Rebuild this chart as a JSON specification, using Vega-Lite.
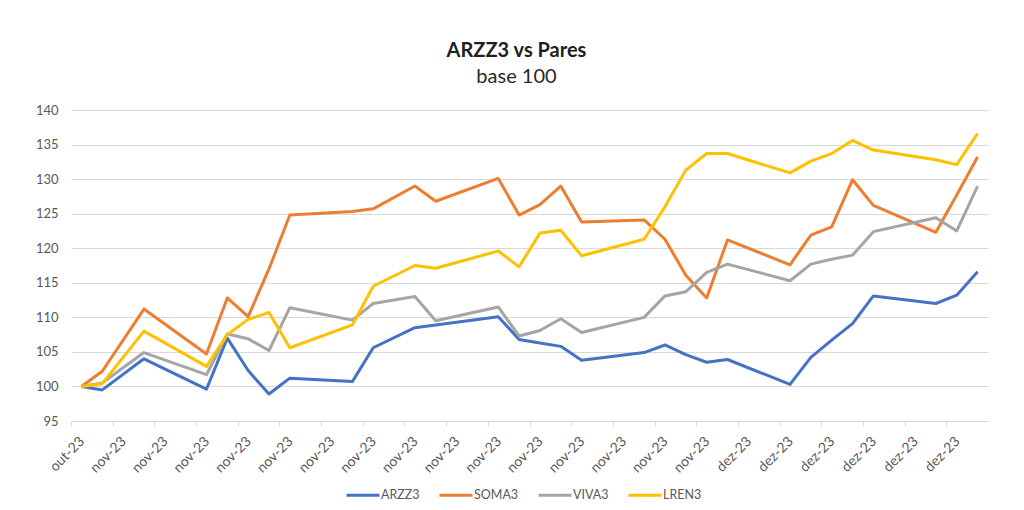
{
  "$schema": "https://vega.github.io/schema/vega-lite/v6.json",
  "autosize": "none",
  "width": 917,
  "height": 311,
  "padding": {"left": 71, "top": 110, "right": 36, "bottom": 89},
  "background": "white",
  "config": {
    "view": {"stroke": null},
    "font": "Lato"
  },
  "title": {
    "text": "ARZZ3 vs Pares",
    "subtitle": "base 100",
    "anchor": "middle",
    "frame": "group",
    "dx": -13,
    "offset": 17,
    "font": "Lato",
    "fontSize": 20,
    "fontWeight": "bold",
    "color": "#1f1f1f",
    "subtitleFont": "Lato",
    "subtitleFontSize": 20,
    "subtitleFontWeight": "normal",
    "subtitleColor": "#2a2a2a",
    "subtitlePadding": 6
  },
  "data": {
    "values": [
      {"d": "2023-10-31", "ARZZ3": 100, "SOMA3": 100, "VIVA3": 100, "LREN3": 100},
      {"d": "2023-11-01", "ARZZ3": 99.5, "SOMA3": 102.2, "VIVA3": 100.5, "LREN3": 100.4},
      {"d": "2023-11-03", "ARZZ3": 104.0, "SOMA3": 111.2, "VIVA3": 104.9, "LREN3": 108.0},
      {"d": "2023-11-06", "ARZZ3": 99.6, "SOMA3": 104.7, "VIVA3": 101.7, "LREN3": 102.9},
      {"d": "2023-11-07", "ARZZ3": 107.0, "SOMA3": 112.8, "VIVA3": 107.6, "LREN3": 107.5},
      {"d": "2023-11-08", "ARZZ3": 102.3, "SOMA3": 110.1, "VIVA3": 106.9, "LREN3": 109.7},
      {"d": "2023-11-09", "ARZZ3": 98.9, "SOMA3": 117.0, "VIVA3": 105.2, "LREN3": 110.7},
      {"d": "2023-11-10", "ARZZ3": 101.2, "SOMA3": 124.8, "VIVA3": 111.4, "LREN3": 105.6},
      {"d": "2023-11-13", "ARZZ3": 100.7, "SOMA3": 125.3, "VIVA3": 109.6, "LREN3": 108.9},
      {"d": "2023-11-14", "ARZZ3": 105.6, "SOMA3": 125.7, "VIVA3": 112.0, "LREN3": 114.5},
      {"d": "2023-11-16", "ARZZ3": 108.5, "SOMA3": 129.0, "VIVA3": 113.0, "LREN3": 117.5},
      {"d": "2023-11-17", "ARZZ3": 108.9, "SOMA3": 126.8, "VIVA3": 109.5, "LREN3": 117.1},
      {"d": "2023-11-20", "ARZZ3": 110.1, "SOMA3": 130.1, "VIVA3": 111.5, "LREN3": 119.6},
      {"d": "2023-11-21", "ARZZ3": 106.8, "SOMA3": 124.8, "VIVA3": 107.3, "LREN3": 117.3},
      {"d": "2023-11-22", "ARZZ3": 106.3, "SOMA3": 126.3, "VIVA3": 108.1, "LREN3": 122.2},
      {"d": "2023-11-23", "ARZZ3": 105.8, "SOMA3": 129.0, "VIVA3": 109.8, "LREN3": 122.6},
      {"d": "2023-11-24", "ARZZ3": 103.8, "SOMA3": 123.8, "VIVA3": 107.8, "LREN3": 118.9},
      {"d": "2023-11-27", "ARZZ3": 104.9, "SOMA3": 124.1, "VIVA3": 110.0, "LREN3": 121.3},
      {"d": "2023-11-28", "ARZZ3": 106.0, "SOMA3": 121.3, "VIVA3": 113.1, "LREN3": 126.0},
      {"d": "2023-11-29", "ARZZ3": 104.6, "SOMA3": 116.1, "VIVA3": 113.7, "LREN3": 131.3},
      {"d": "2023-11-30", "ARZZ3": 103.5, "SOMA3": 112.8, "VIVA3": 116.5, "LREN3": 133.7},
      {"d": "2023-12-01", "ARZZ3": 103.9, "SOMA3": 121.2, "VIVA3": 117.7, "LREN3": 133.7},
      {"d": "2023-12-04", "ARZZ3": 100.3, "SOMA3": 117.6, "VIVA3": 115.3, "LREN3": 130.9},
      {"d": "2023-12-05", "ARZZ3": 104.2, "SOMA3": 121.9, "VIVA3": 117.7, "LREN3": 132.6},
      {"d": "2023-12-06", "ARZZ3": 106.7, "SOMA3": 123.1, "VIVA3": 118.4, "LREN3": 133.7},
      {"d": "2023-12-07", "ARZZ3": 109.1, "SOMA3": 129.9, "VIVA3": 119.0, "LREN3": 135.6},
      {"d": "2023-12-08", "ARZZ3": 113.1, "SOMA3": 126.2, "VIVA3": 122.4, "LREN3": 134.2},
      {"d": "2023-12-11", "ARZZ3": 112.0, "SOMA3": 122.3, "VIVA3": 124.4, "LREN3": 132.8},
      {"d": "2023-12-12", "ARZZ3": 113.2, "SOMA3": 127.7, "VIVA3": 122.5, "LREN3": 132.1},
      {"d": "2023-12-13", "ARZZ3": 116.6, "SOMA3": 133.2, "VIVA3": 129.0, "LREN3": 136.6}
    ]
  },
  "transform": [
    {"fold": ["ARZZ3", "SOMA3", "VIVA3", "LREN3"], "as": ["serie", "valor"]}
  ],
  "mark": {"type": "line", "strokeWidth": 3, "strokeJoin": "round", "strokeCap": "butt"},
  "encoding": {
    "x": {
      "field": "d",
      "type": "temporal",
      "scale": {
        "type": "utc",
        "domain": [
          {"year": 2023, "month": 10, "date": 30, "hours": 12, "utc": true},
          {"year": 2023, "month": 12, "date": 13, "hours": 12, "utc": true}
        ]
      },
      "axis": {
        "title": null,
        "grid": false,
        "values": [
          {"year": 2023, "month": 10, "date": 30, "hours": 12, "utc": true},
          {"year": 2023, "month": 11, "date": 1, "hours": 12, "utc": true},
          {"year": 2023, "month": 11, "date": 3, "hours": 12, "utc": true},
          {"year": 2023, "month": 11, "date": 5, "hours": 12, "utc": true},
          {"year": 2023, "month": 11, "date": 7, "hours": 12, "utc": true},
          {"year": 2023, "month": 11, "date": 9, "hours": 12, "utc": true},
          {"year": 2023, "month": 11, "date": 11, "hours": 12, "utc": true},
          {"year": 2023, "month": 11, "date": 13, "hours": 12, "utc": true},
          {"year": 2023, "month": 11, "date": 15, "hours": 12, "utc": true},
          {"year": 2023, "month": 11, "date": 17, "hours": 12, "utc": true},
          {"year": 2023, "month": 11, "date": 19, "hours": 12, "utc": true},
          {"year": 2023, "month": 11, "date": 21, "hours": 12, "utc": true},
          {"year": 2023, "month": 11, "date": 23, "hours": 12, "utc": true},
          {"year": 2023, "month": 11, "date": 25, "hours": 12, "utc": true},
          {"year": 2023, "month": 11, "date": 27, "hours": 12, "utc": true},
          {"year": 2023, "month": 11, "date": 29, "hours": 12, "utc": true},
          {"year": 2023, "month": 12, "date": 1, "hours": 12, "utc": true},
          {"year": 2023, "month": 12, "date": 3, "hours": 12, "utc": true},
          {"year": 2023, "month": 12, "date": 5, "hours": 12, "utc": true},
          {"year": 2023, "month": 12, "date": 7, "hours": 12, "utc": true},
          {"year": 2023, "month": 12, "date": 9, "hours": 12, "utc": true},
          {"year": 2023, "month": 12, "date": 11, "hours": 12, "utc": true}
        ],
        "labelExpr": "['jan','fev','mar','abr','mai','jun','jul','ago','set','out','nov','dez'][utcmonth(datum.value + 43200000)] + '-' + utcFormat(datum.value + 43200000, '%y')",
        "labelAngle": -45,
        "labelAlign": "right",
        "labelBaseline": "middle",
        "labelPadding": 13,
        "labelOffset": 11,
        "labelFont": "Lato",
        "labelFontSize": 14,
        "labelColor": "#595959",
        "labelOverlap": false,
        "labelFlush": false,
        "domainColor": "#D9D9D9",
        "domainWidth": 1,
        "tickColor": "#D9D9D9",
        "tickSize": 5,
        "tickWidth": 1
      }
    },
    "y": {
      "field": "valor",
      "type": "quantitative",
      "scale": {"domain": [95, 140], "nice": false, "zero": false},
      "axis": {
        "title": null,
        "values": [95, 100, 105, 110, 115, 120, 125, 130, 135, 140],
        "domain": false,
        "ticks": false,
        "grid": true,
        "gridColor": "#D9D9D9",
        "gridWidth": 1,
        "labelPadding": 13,
        "labelFont": "Lato",
        "labelFontSize": 13,
        "labelColor": "#595959"
      }
    },
    "color": {
      "field": "serie",
      "type": "nominal",
      "sort": ["ARZZ3", "SOMA3", "VIVA3", "LREN3"],
      "scale": {
        "domain": ["ARZZ3", "SOMA3", "VIVA3", "LREN3"],
        "range": ["#4472C4", "#ED7D31", "#A5A5A5", "#FFC000"]
      },
      "legend": {
        "title": null,
        "orient": "none",
        "direction": "horizontal",
        "legendX": 274,
        "legendY": 367,
        "padding": 0,
        "symbolType": "stroke",
        "symbolSize": 1089,
        "symbolStrokeWidth": 3,
        "labelFont": "Lato",
        "labelFontSize": 12.5,
        "labelColor": "#595959",
        "labelOffset": 0,
        "columnPadding": 13
      }
    }
  }
}
